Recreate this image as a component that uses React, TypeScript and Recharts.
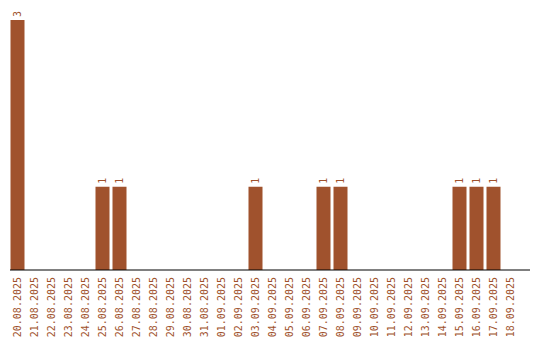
import React from 'react';
import { BarChart, Bar, XAxis, YAxis, LabelList } from 'recharts';

const days = [
  '20.08.2025', '21.08.2025', '22.08.2025', '23.08.2025', '24.08.2025',
  '25.08.2025', '26.08.2025', '27.08.2025', '28.08.2025', '29.08.2025',
  '30.08.2025', '31.08.2025', '01.09.2025', '02.09.2025', '03.09.2025',
  '04.09.2025', '05.09.2025', '06.09.2025', '07.09.2025', '08.09.2025',
  '09.09.2025', '10.09.2025', '11.09.2025', '12.09.2025', '13.09.2025',
  '14.09.2025', '15.09.2025', '16.09.2025', '17.09.2025', '18.09.2025',
];

const counts = [
  3, 0, 0, 0, 0,
  1, 1, 0, 0, 0,
  0, 0, 0, 0, 1,
  0, 0, 0, 1, 1,
  0, 0, 0, 0, 0,
  0, 1, 1, 1, 0,
];

const data = days.map((day, i) => ({ day, count: counts[i] }));

const barColor = '#A0522D';
const monoFont = '"DejaVu Sans Mono", monospace';

function DayTick({ x, y, payload }: any) {
  const ty = y - 1;
  return (
    <text
      x={x}
      y={ty}
      dy={3.5}
      transform={`rotate(-90, ${x}, ${ty})`}
      textAnchor="end"
      fontFamily={monoFont}
      fontSize={10}
      fill={barColor}
    >
      {payload.value}
    </text>
  );
}

function CountLabel({ x, y, width, value }: any) {
  if (!value) return null;
  const cx = x + width / 2;
  const ty = y - 3;
  return (
    <text
      x={cx}
      y={ty}
      dy={3.5}
      transform={`rotate(-90, ${cx}, ${ty})`}
      textAnchor="start"
      fontFamily={monoFont}
      fontSize={10}
      fill={barColor}
    >
      {value}
    </text>
  );
}

export default function App() {
  return (
    <div style={{ position: 'fixed', left: 0, top: 0, width: 540, height: 340, background: '#fff' }}>
      <BarChart
        width={540}
        height={340}
        data={data}
        margin={{ top: 10, right: 10, left: 10, bottom: 0 }}
      >
        <XAxis
          dataKey="day"
          interval={0}
          padding={{ left: -1.5, right: 11.5 }}
          tickLine={false}
          axisLine={{ stroke: '#000', strokeWidth: 1 }}
          tick={<DayTick />}
          height={70}
        />
        <YAxis
          width={0}
          domain={[0, 3.12]}
          tick={false}
          tickLine={false}
          axisLine={{ stroke: '#000', strokeWidth: 1 }}
        />
        <Bar dataKey="count" fill={barColor} barSize={14} isAnimationActive={false}>
          <LabelList dataKey="count" content={<CountLabel />} />
        </Bar>
      </BarChart>
    </div>
  );
}
